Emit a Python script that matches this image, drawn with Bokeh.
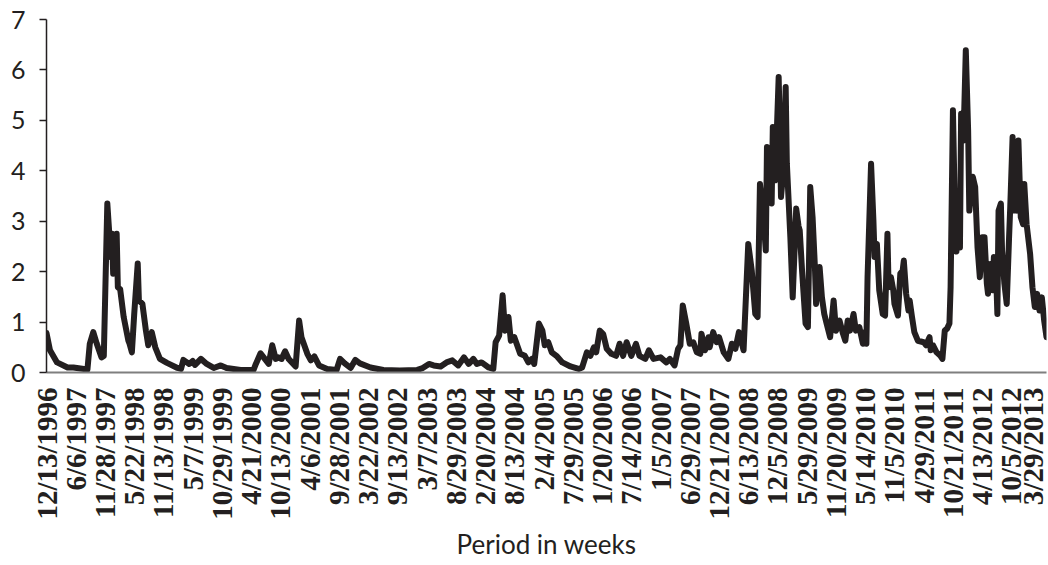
import math
from bokeh.plotting import figure
from bokeh.models import FixedTicker, Range1d
from bokeh.embed import file_html
from bokeh.resources import INLINE

# Tick labels (every 25 weeks)
tick_labels = ["12/13/1996", "6/6/1997", "11/28/1997", "5/22/1998", "11/13/1998",
               "5/7/1999", "10/29/1999", "4/21/2000", "10/13/2000", "4/6/2001",
               "9/28/2001", "3/22/2002", "9/13/2002", "3/7/2003", "8/29/2003",
               "2/20/2004", "8/13/2004", "2/4/2005", "7/29/2005", "1/20/2006",
               "7/14/2006", "1/5/2007", "6/29/2007", "12/21/2007", "6/13/2008",
               "12/5/2008", "5/29/2009", "11/20/2009", "5/14/2010", "11/5/2010",
               "4/29/2011", "10/21/2011", "4/13/2012", "10/5/2012", "3/29/2013"]
tick_step_weeks = 25

# Series: week index (from 12/13/1996) and value
weeks = [0, 3, 9, 18, 23, 35, 37, 40, 43, 47, 49, 52, 55, 56, 57, 60, 61, 63, 66, 70,
         71, 73, 75, 78, 79, 82, 85, 87, 90, 93, 97, 103, 112, 115, 117, 122, 125, 127, 132,
         137, 143, 149, 154, 166, 177, 179, 183, 190, 193, 196, 198, 201, 204, 207, 213,
         216, 218, 223, 226, 229, 233, 240, 248, 251, 255, 260, 264, 268, 277, 288, 302,
         317, 321, 327, 331, 337, 342,
         347, 352, 357, 361, 365, 368, 372, 378, 382, 384, 387, 390, 392, 395, 397, 400,
         405, 409, 412, 415, 417, 421, 424, 426, 429, 432, 436, 441, 448, 455, 458, 462,
         465, 468, 470, 473, 476, 479, 483, 487, 490, 493, 496, 500, 504, 507, 512, 515,
         519, 525, 530, 533, 537, 540, 542, 544, 547, 550,
         553, 556, 559, 560, 563, 566, 567, 570, 573, 575, 579, 583, 586, 589, 592, 596,
         600, 603, 606, 608, 610, 613, 615, 616, 618, 620, 621, 623, 626, 627, 628, 630,
         632, 633, 636, 638, 641, 643, 644, 646, 649, 651, 653, 655, 657, 658, 661, 663,
         665, 667, 670, 673, 675, 678, 681, 683, 685, 687, 690, 692,
         695, 698, 700, 701, 702, 705, 707, 708, 710, 712, 715, 717, 719, 720, 722, 724,
         725, 728, 730, 732, 733, 735, 737, 738, 740, 742, 745, 750, 752, 755, 756, 758,
         761, 764, 766, 768, 770, 772, 773, 775, 777, 778, 779, 781, 782, 784, 786, 788,
         789, 792, 794, 795, 796, 798, 800, 802, 804, 805, 807, 809, 810, 812, 813, 814,
         816, 817, 819, 821, 823, 824, 826, 827, 829, 830, 831, 833, 835, 836, 838, 841,
         843, 845, 847, 849, 851, 853, 855]
values = [0.78, 0.44, 0.20, 0.10, 0.10, 0.06, 0.57, 0.80, 0.57, 0.30, 0.33, 3.35, 2.29, 2.75,
          1.96, 2.75, 1.69, 1.65, 1.10, 0.63, 0.57, 0.40, 1.16, 2.16, 1.43, 1.36, 0.83, 0.54,
          0.80, 0.50, 0.27, 0.19, 0.09, 0.07, 0.25, 0.17, 0.23, 0.15, 0.27,
          0.17, 0.09, 0.14, 0.09, 0.05, 0.05, 0.17, 0.38, 0.17, 0.54, 0.27, 0.30, 0.27, 0.42,
          0.27, 0.12, 1.03, 0.70, 0.37, 0.24, 0.32, 0.14, 0.07, 0.05, 0.27, 0.18, 0.09, 0.25,
          0.18, 0.10, 0.05, 0.04, 0.05, 0.08, 0.17, 0.14, 0.12, 0.20,
          0.24, 0.14, 0.30, 0.17, 0.27, 0.17, 0.20, 0.10, 0.07, 0.60, 0.73, 1.53, 0.83, 1.10,
          0.63, 0.70, 0.37, 0.33, 0.20, 0.27, 0.17, 0.97, 0.83, 0.54, 0.60, 0.40, 0.33, 0.20,
          0.12, 0.07, 0.10, 0.40, 0.33, 0.50, 0.40, 0.83, 0.76, 0.47, 0.37, 0.33, 0.57, 0.33,
          0.60, 0.33, 0.57, 0.33, 0.27, 0.44, 0.27, 0.30, 0.20, 0.27, 0.14, 0.47, 0.54, 1.33,
          0.97, 0.57,
          0.60, 0.40, 0.37, 0.77, 0.44, 0.70, 0.50, 0.80, 0.60, 0.70, 0.40, 0.27, 0.57, 0.47,
          0.80, 0.44, 2.55, 2.02, 1.16, 1.10, 3.74, 3.08, 2.42, 4.47, 4.00, 3.35, 4.87, 3.81,
          5.86, 4.80, 3.48, 4.00, 5.66, 4.15, 2.68, 1.49, 3.25, 2.90, 2.82, 2.02, 0.97, 0.90,
          3.68, 3.08, 2.09, 1.36, 2.09, 1.49, 1.16, 0.97, 0.70, 1.43, 0.83, 1.03, 0.77, 0.63,
          1.03, 0.83, 1.16, 0.83,
          0.90, 0.57, 0.80, 0.57, 1.89, 4.14, 3.02, 2.29, 2.55, 1.63, 1.16, 1.13, 2.75, 1.69,
          1.89, 1.63, 1.36, 1.13, 1.96, 2.02, 2.22, 1.56, 1.23, 1.43, 1.10, 0.80, 0.63, 0.60,
          0.54, 0.70, 0.44, 0.54, 0.40, 0.34, 0.27, 0.83, 0.87, 0.97, 1.69, 5.20, 2.82, 2.40,
          3.35, 2.48, 5.13, 4.60, 6.39, 4.80, 3.21, 3.88, 3.68, 3.08, 2.49, 1.89, 2.68, 2.68,
          1.76, 1.56, 2.15, 1.63, 2.29, 1.89, 1.16, 3.21, 3.35, 2.42, 1.76, 1.36, 2.68, 3.28,
          4.67, 3.21, 4.14, 3.21, 4.60, 3.08, 2.94, 3.74, 2.94, 2.35, 1.69, 1.30, 1.56, 1.23,
          1.49, 1.03, 0.70]

ink = "#231f20"
label_font = "Lato"

p = figure(frame_width=1000, frame_height=353, output_backend="svg", toolbar_location=None,
           x_range=Range1d(0, 855), y_range=Range1d(0, 7),
           min_border_left=46, min_border_right=2, min_border_top=19, min_border_bottom=0)
p.outline_line_color = None
p.xgrid.grid_line_color = None
p.ygrid.grid_line_color = None
p.background_fill_color = "white"
p.border_fill_color = "white"

p.line(weeks, values, line_color=ink, line_width=6, line_join="round", line_cap="round")

# x axis
p.xaxis.ticker = FixedTicker(ticks=[i * tick_step_weeks for i in range(len(tick_labels))])
p.xaxis.major_label_overrides = {i * tick_step_weeks: s for i, s in enumerate(tick_labels)}
p.xaxis.major_label_orientation = math.pi / 2
p.xaxis.major_label_text_font = "Liberation Serif"
p.xaxis.major_label_text_font_style = "bold"
p.xaxis.major_label_text_font_size = "29px"
p.xaxis.major_label_text_color = ink
p.xaxis.major_label_standoff = 9
p.xaxis.major_tick_line_color = None
p.xaxis.minor_tick_line_color = None
p.xaxis.axis_line_color = "#7f7f7f"
p.xaxis.axis_line_width = 2
p.xaxis.axis_label = "Period in weeks"
p.xaxis.axis_label_text_font = label_font
p.xaxis.axis_label_text_font_style = "normal"
p.xaxis.axis_label_text_font_size = "26px"
p.xaxis.axis_label_text_color = ink
p.xaxis.axis_label_standoff = 5

# y axis
p.yaxis.ticker = FixedTicker(ticks=[0, 1, 2, 3, 4, 5, 6, 7])
p.yaxis.major_label_text_font = label_font
p.yaxis.major_label_text_font_size = "25px"
p.yaxis.major_label_text_color = ink
p.yaxis.major_tick_out = 7
p.yaxis.major_tick_in = 0
p.yaxis.major_tick_line_color = ink
p.yaxis.major_tick_line_width = 1.5
p.yaxis.minor_tick_line_color = None
p.yaxis.axis_line_color = ink
p.yaxis.axis_line_width = 1.5
p.yaxis.major_label_standoff = 14

open("out.html", "w").write(file_html(p, INLINE))
